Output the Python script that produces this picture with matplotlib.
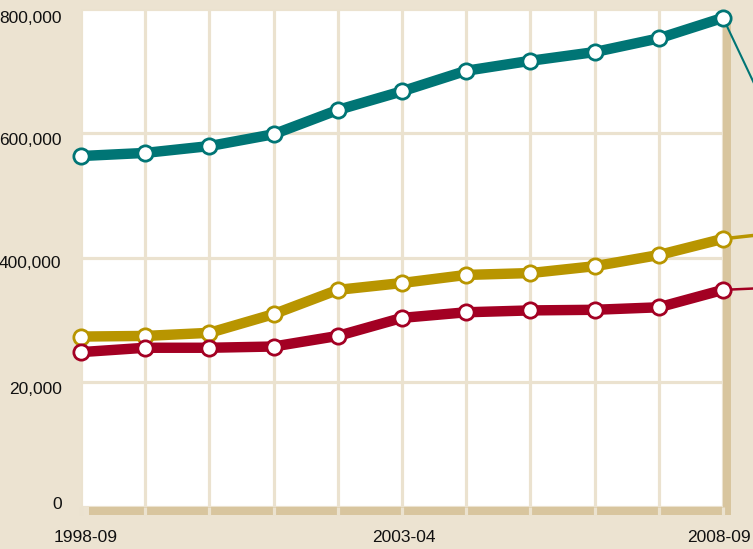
import matplotlib
matplotlib.use('Agg')
import matplotlib.pyplot as plt
import matplotlib.transforms as mtransforms
from matplotlib.patches import Rectangle

plt.rcParams['font.family'] = ['Liberation Sans Narrow', 'Liberation Sans', 'DejaVu Sans']

# data
years = ['1998-09', '1999-00', '2000-01', '2001-02', '2002-03', '2003-04',
         '2004-05', '2005-06', '2006-07', '2007-08', '2008-09']
teal_vals = [563000, 568000, 579000, 598000, 637000, 667000,
             700000, 716000, 730000, 752000, 785000]
gold_vals = [273000, 274000, 279000, 309000, 348000, 359000,
             372000, 375000, 386000, 404000, 430000]
red_vals = [248000, 255000, 255000, 257000, 274000, 303000,
            312000, 315000, 316000, 320000, 348000]
y_ticks = [0, 200000, 400000, 600000, 800000]
y_labels = ['0', '20,000', '400,000', '600,000', '800,000']
x_labelled = ['1998-09', '2003-04', '2008-09']

bg = '#ece3d1'
grid_c = '#ebe2cf'
shadow_c = '#d8c59e'
teal = '#007575'
gold = '#b89500'
red = '#a30023'

W, H = 753, 549
fig = plt.figure(figsize=(W / 100, H / 100), dpi=100, facecolor=bg)
left, right, top, bottom = 81, 723, 8.5, 506.5
ax = fig.add_axes([left / W, (H - bottom) / H, (right - left) / W, (bottom - top) / H])
ax.set_facecolor('white')

# drop shadow right and below the plot area
fig.patches.append(Rectangle(((left + 8) / W, (H - bottom - 8) / H),
                             (right - left) / W, (bottom - top) / H,
                             transform=fig.transFigure, facecolor=shadow_c,
                             edgecolor='none', zorder=-5))

x = list(range(len(years)))
for vals, col in [(teal_vals, teal), (gold_vals, gold), (red_vals, red)]:
    ax.plot(x, vals, color=col, lw=7.5, solid_joinstyle='round', zorder=3, clip_on=False)
    ax.plot(x, vals, ls='none', marker='o', ms=11, mfc='white', mec=col, mew=2,
            zorder=4, clip_on=False)

# leader lines towards labels off the right edge
for vals, col, dx, dy, lw in [(teal_vals, teal, 45, -95, 1.5),
                              (gold_vals, gold, 45, 5, 2.5),
                              (red_vals, red, 45, 2, 1.8)]:
    ax.annotate('', xy=(x[-1], vals[-1]), xytext=(dx, dy), textcoords='offset points',
                arrowprops=dict(arrowstyle='-', color=col, lw=lw, shrinkA=0, shrinkB=5),
                annotation_clip=False, zorder=2)

ax.set_xlim(0, len(years) - 1)
ax.set_ylim(0, 800000)
for s in ax.spines.values():
    s.set_visible(False)

ax.set_xticks(x)
ax.set_xticklabels([y if y in x_labelled else '' for y in years])
ax.set_yticks(y_ticks)
ax.set_yticklabels(y_labels)
ax.grid(True, color=grid_c, lw=2.3, zorder=1)
ax.set_axisbelow(True)
ax.tick_params(axis='x', length=5.8, width=2.3, color=grid_c, pad=11, labelsize=12.5,
               labelcolor='#111111')
ax.tick_params(axis='y', length=0, pad=14, labelsize=12.5, labelcolor='#111111')

# nudge the tick labels like the original
offs = [3.5, -6, -5, -6, -8.5]
for lab, dy in zip(ax.get_yticklabels(), offs):
    lab.set_transform(lab.get_transform() +
                      mtransforms.ScaledTranslation(0, dy / 100, fig.dpi_scale_trans))
xlabs = ax.get_xticklabels()
for lab, dx in [(xlabs[0], 5), (xlabs[5], 2), (xlabs[-1], -4)]:
    lab.set_transform(lab.get_transform() +
                      mtransforms.ScaledTranslation(dx / 100, 0, fig.dpi_scale_trans))

fig.savefig('out.png', dpi=100, facecolor=bg)
